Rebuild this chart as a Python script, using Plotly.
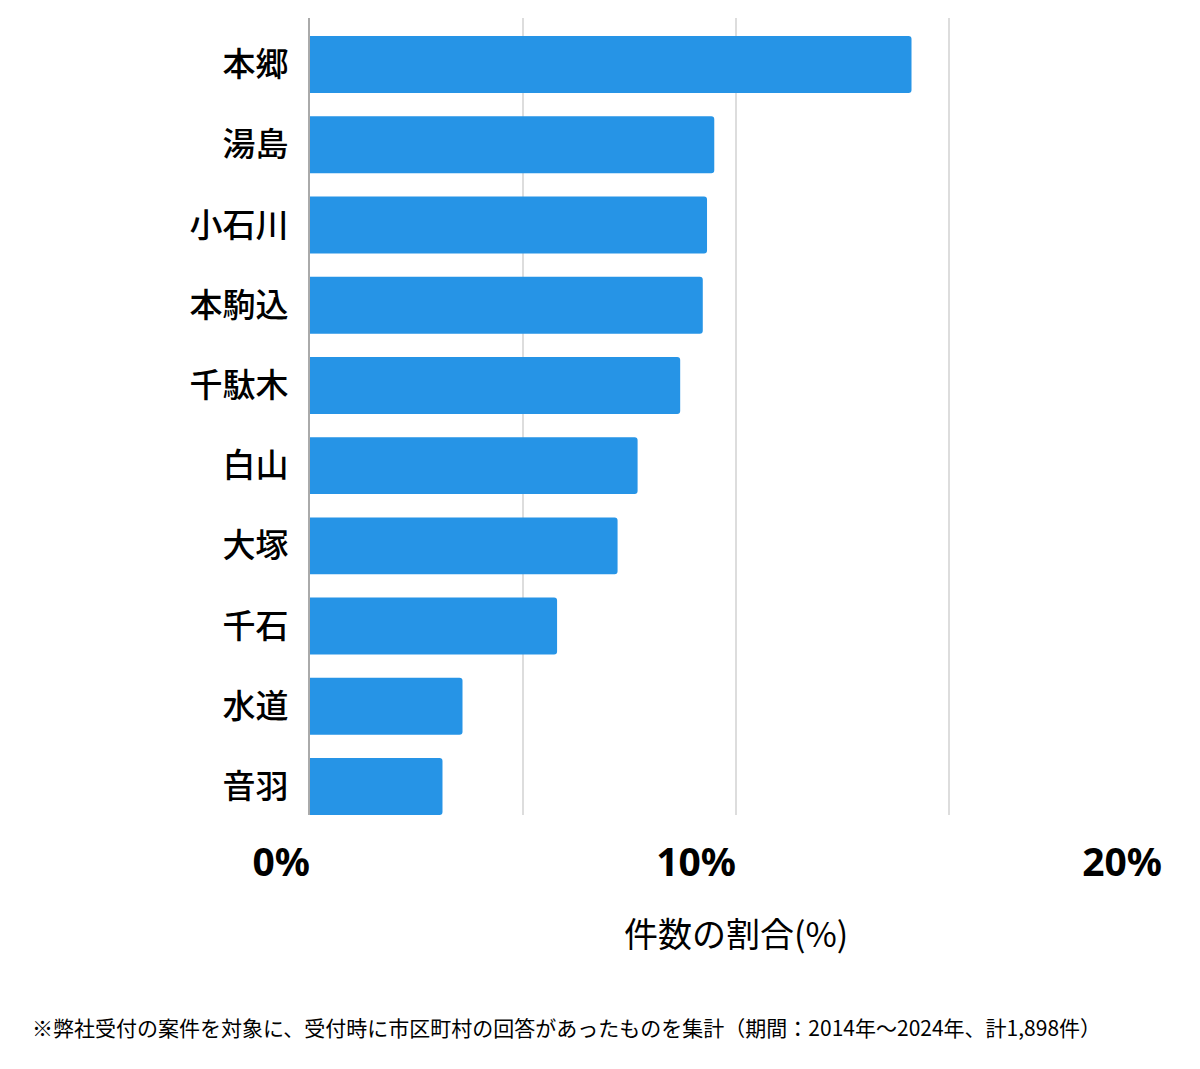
import plotly.graph_objects as go

categories = ["本郷", "湯島", "小石川", "本駒込", "千駄木", "白山", "大塚", "千石", "水道", "音羽"]
values = [14.12, 9.49, 9.32, 9.22, 8.69, 7.69, 7.22, 5.80, 3.58, 3.11]
tick_vals = [0, 5, 10, 15, 20]
tick_text = ["0%", "", "10%", "", "20%"]
axis_title = "件数の割合(%)"
footnote = "※弊社受付の案件を対象に、受付時に市区町村の回答があったものを集計（期間：2014年～2024年、計1,898件）"

fig = go.Figure(go.Bar(
    y=categories, x=values, orientation="h",
    marker=dict(color="#2694e6", cornerradius=3, line=dict(width=0)),
    width=0.71, hoverinfo="skip",
))

fig.update_layout(
    width=1200, height=1069,
    margin=dict(l=310, r=38, t=18, b=254),
    paper_bgcolor="white", plot_bgcolor="white",
    showlegend=False,
    font=dict(family="Noto Sans CJK JP", color="black"),
    xaxis=dict(
        range=[0, 20], tickvals=tick_vals, ticktext=tick_text,
        showgrid=True, gridcolor="#dddddd", gridwidth=1.5,
        zeroline=False, showline=False, ticks="",
        ticklabelposition="outside left", ticklabelstandoff=21,
        tickfont=dict(family="Noto Sans", size=39, weight="bold", color="black"),
        fixedrange=True,
    ),
    yaxis=dict(
        range=[9.355, -0.58], showgrid=False, zeroline=False,
        showline=True, linecolor="#aaaaaa", linewidth=2,
        ticks="", ticklabelstandoff=13,
        tickfont=dict(family="Noto Sans CJK JP", size=33, weight=500, color="black"),
        fixedrange=True,
    ),
    annotations=[
        dict(text=axis_title, xref="paper", yref="paper", x=0.5, y=-0.147,
             xanchor="center", yanchor="middle", showarrow=False,
             font=dict(family="Noto Sans CJK JP", size=34, color="black")),
        dict(text=footnote, xref="paper", yref="paper", x=(30 - 310) / 852, y=-0.266,
             xanchor="left", yanchor="middle", showarrow=False,
             font=dict(family="Noto Sans CJK JP", size=21, color="black")),
    ],
)

fig.write_html("out.html")
